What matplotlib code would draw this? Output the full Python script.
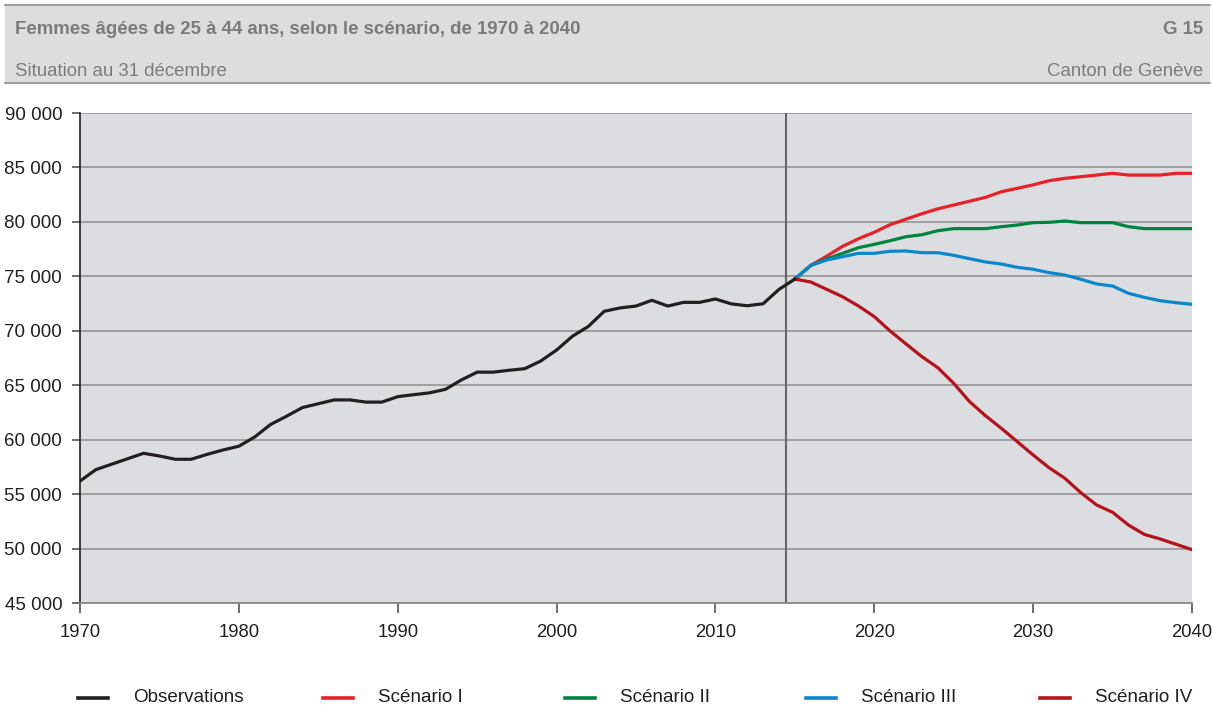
import matplotlib
matplotlib.use("Agg")
import matplotlib.pyplot as plt
from matplotlib.lines import Line2D
from matplotlib.patches import Rectangle
from matplotlib.ticker import FuncFormatter

plt.rcParams['font.family'] = ['Liberation Sans', 'DejaVu Sans']

# ---- data ----
obs_years = list(range(1970, 2016))
obs_values = [56200, 57250, 57750, 58250, 58750, 58500, 58200, 58200, 58650, 59050,
              59400, 60250, 61400, 62150, 62950, 63300, 63650, 63650, 63450, 63450,
              63950, 64130, 64300, 64620, 65480, 66200, 66200, 66370, 66520, 67220,
              68230, 69500, 70400, 71790, 72100, 72270, 72800, 72270, 72610, 72610,
              72920, 72470, 72300, 72480, 73800, 74750]

proj_years = list(range(2015, 2041))
scen1 = [74750, 76000, 76850, 77750, 78450, 79050, 79750, 80250, 80750, 81200,
         81550, 81900, 82250, 82770, 83080, 83400, 83780, 84000, 84150, 84300,
         84460, 84300, 84300, 84300, 84460, 84460]
scen2 = [74750, 76000, 76590, 77110, 77630, 77940, 78270, 78640, 78820, 79190,
         79380, 79380, 79380, 79560, 79710, 79930, 79960, 80080, 79930, 79930,
         79930, 79560, 79380, 79380, 79380, 79380]
scen3 = [74750, 76000, 76500, 76800, 77110, 77110, 77300, 77330, 77170, 77170,
         76930, 76620, 76320, 76130, 75830, 75650, 75340, 75120, 74730, 74300,
         74110, 73440, 73070, 72760, 72580, 72430]
scen4 = [74750, 74480, 73810, 73130, 72280, 71300, 69980, 68790, 67620, 66610,
         65170, 63490, 62200, 61040, 59820, 58590, 57430, 56450, 55130, 54000,
         53330, 52160, 51300, 50880, 50390, 49900]

series_names = ["Observations", "Scénario I", "Scénario II", "Scénario III", "Scénario IV"]
series_colors = ["#231f20", "#e8202a", "#00843f", "#0a86cc", "#b5121b"]

x_ticks = [1970, 1980, 1990, 2000, 2010, 2020, 2030, 2040]
y_ticks = list(range(45000, 90001, 5000))
divider_year = 2014.45

title = "Femmes âgées de 25 à 44 ans, selon le scénario, de 1970 à 2040"
subtitle = "Situation au 31 décembre"
graph_id = "G 15"
source = "Canton de Genève"

# ---- figure ----
W, H = 1212, 707
fig = plt.figure(figsize=(W / 100, H / 100), dpi=100)
fig.patch.set_facecolor("white")

# header band
fig.patches.append(Rectangle((5 / W, 1 - 83 / H), 1205 / W, 78 / H, transform=fig.transFigure,
                             facecolor="#dcdddf", edgecolor="none", zorder=0))
fig.add_artist(Line2D([5 / W, 1210 / W], [1 - 5 / H, 1 - 5 / H], transform=fig.transFigure,
                      color="#8c8c8c", lw=1.2))
fig.add_artist(Line2D([5 / W, 1210 / W], [1 - 82.5 / H, 1 - 82.5 / H], transform=fig.transFigure,
                      color="#8c8c8c", lw=1.2))
hdr_col = "#7b7b7b"
fig.text(15 / W, 1 - 29 / H, title, fontsize=13.4, fontweight="bold", color=hdr_col,
         ha="left", va="center")
fig.text(1203 / W, 1 - 29 / H, graph_id, fontsize=13.4, fontweight="bold", color=hdr_col,
         ha="right", va="center")
fig.text(15 / W, 1 - 71 / H, subtitle, fontsize=13.4, color=hdr_col, ha="left", va="center")
fig.text(1203 / W, 1 - 71 / H, source, fontsize=13.4, color=hdr_col, ha="right", va="center")

# axes
ax = fig.add_axes([80 / W, 1 - 603 / H, 1112 / W, 490 / H])
ax.set_facecolor("#dcdde0")
ax.set_xlim(1970, 2040)
ax.set_ylim(45000, 90000)
ax.set_xticks(x_ticks)
ax.set_yticks(y_ticks)
ax.yaxis.set_major_formatter(FuncFormatter(lambda v, p: f"{int(v):,}".replace(",", " ")))
ax.grid(axis="y", color="#9a9a9a", lw=1.3)
ax.set_axisbelow(True)
for s in ["top", "right"]:
    ax.spines[s].set_visible(False)
ax.spines["left"].set_color("#231f20")
ax.spines["left"].set_linewidth(1.2)
ax.spines["bottom"].set_color("#8a8a8a")
ax.spines["bottom"].set_linewidth(1.3)
ax.tick_params(axis="y", length=5.8, width=1.2, color="#555555", labelsize=13.5,
               labelcolor="#231f20", pad=7)
ax.tick_params(axis="x", length=7.2, width=1.2, color="#555555", labelsize=13.3,
               labelcolor="#231f20", pad=8)
# keep the last x label inside the canvas like the reference
ax.get_xticklabels()[-1].set_horizontalalignment("center")

ax.axvline(divider_year, color="#666666", lw=1.5, zorder=2)

lw = 2.3
ax.plot(obs_years, obs_values, color=series_colors[0], lw=lw, zorder=5, solid_joinstyle="round")
for vals, col in zip([scen1, scen2, scen3, scen4], series_colors[1:]):
    ax.plot(proj_years, vals, color=col, lw=lw, zorder=4, solid_joinstyle="round")

# legend (manual, in figure coords)
leg_y = 1 - 698 / H
leg_x = [78, 323, 565, 806, 1040]
for x0, name, col in zip(leg_x, series_names, series_colors):
    fig.add_artist(Line2D([x0 / W, (x0 + 30) / W], [leg_y, leg_y], transform=fig.transFigure,
                          color=col, lw=2.6))
    fig.text((x0 + 55) / W, leg_y, name, fontsize=13.6, color="#231f20", ha="left", va="center")

fig.savefig("out.png", dpi=100)
